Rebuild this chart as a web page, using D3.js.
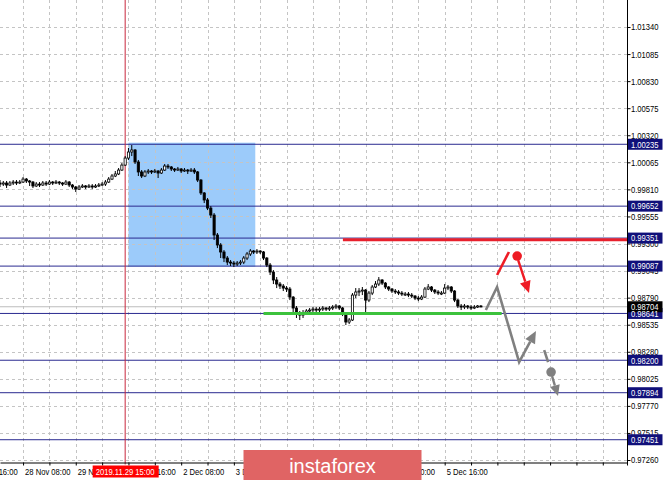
<!DOCTYPE html>
<html><head><meta charset="utf-8">
<script src="https://cdn.jsdelivr.net/npm/d3@7"></script>
<style>
body{margin:0;background:#fff}
svg{display:block}
.lbl{font-family:"Liberation Sans",Arial,sans-serif;font-size:9.3px}
</style>
</head><body>
<svg id="c" width="665" height="481"></svg>
<script>
// ---- data (hourly bars, index 0 = first visible bar) ----
const opens = [
0.99870,0.99860,0.99870,0.99851,0.99870,0.99879,0.99870,0.99879,0.99907,0.99889,
0.99879,0.99842,0.99860,0.99851,0.99870,0.99860,0.99879,0.99870,0.99879,0.99870,
0.99860,0.99879,0.99851,0.99832,0.99813,0.99832,0.99842,0.99832,0.99842,0.99832,
0.99842,0.99851,0.99860,0.99879,0.99907,0.99936,0.99955,0.99992,1.00039,1.00105,
1.00162,1.00181,1.00068,0.99974,0.99936,0.99974,0.99983,0.99974,0.99983,0.99964,
0.99992,1.00030,1.00021,1.00002,0.99992,1.00002,0.99983,0.99992,0.99983,0.99992,
0.99974,0.99898,0.99776,0.99710,0.99634,0.99568,0.99380,0.99286,0.99220,0.99163,
0.99125,0.99116,0.99106,0.99116,0.99125,0.99163,0.99201,0.99229,0.99220,0.99229,
0.99220,0.99163,0.99097,0.99031,0.98956,0.98918,0.98899,0.98880,0.98871,0.98795,
0.98692,0.98635,0.98626,0.98645,0.98664,0.98673,0.98682,0.98673,0.98682,0.98692,
0.98682,0.98692,0.98701,0.98711,0.98692,0.98635,0.98560,0.98579,0.98814,0.98843,
0.98852,0.98861,0.98767,0.98833,0.98890,0.98918,0.98956,0.98927,0.98890,0.98871,
0.98852,0.98843,0.98833,0.98824,0.98824,0.98814,0.98805,0.98786,0.98777,0.98795,
0.98871,0.98890,0.98861,0.98843,0.98833,0.98833,0.98880,0.98890,0.98852,0.98767,
0.98711,0.98701,0.98711,0.98701,0.98692,0.98701,0.98711];
const highs = [
0.99898,0.99889,0.99889,0.99889,0.99898,0.99898,0.99898,0.99926,0.99917,0.99898,
0.99889,0.99879,0.99879,0.99889,0.99889,0.99898,0.99889,0.99898,0.99889,0.99879,
0.99898,0.99889,0.99860,0.99842,0.99851,0.99860,0.99851,0.99860,0.99860,0.99860,
0.99870,0.99879,0.99898,0.99926,0.99955,0.99983,1.00011,1.00058,1.00124,1.00200,
1.00228,1.00190,1.00087,0.99992,0.99992,1.00002,0.99992,1.00002,0.99992,1.00011,
1.00049,1.00049,1.00030,1.00011,1.00021,1.00011,1.00011,1.00002,1.00011,1.00011,
0.99983,0.99907,0.99785,0.99728,0.99653,0.99587,0.99399,0.99304,0.99238,0.99182,
0.99144,0.99135,0.99135,0.99144,0.99182,0.99220,0.99248,0.99238,0.99248,0.99238,
0.99229,0.99172,0.99116,0.99050,0.98984,0.98937,0.98918,0.98899,0.98890,0.98805,
0.98711,0.98664,0.98673,0.98682,0.98692,0.98701,0.98701,0.98701,0.98711,0.98701,
0.98711,0.98720,0.98730,0.98720,0.98701,0.98645,0.98598,0.98833,0.98880,0.98880,
0.98890,0.98871,0.98852,0.98909,0.98946,0.98984,0.98965,0.98937,0.98899,0.98880,
0.98871,0.98861,0.98852,0.98843,0.98843,0.98833,0.98814,0.98805,0.98814,0.98890,
0.98918,0.98899,0.98871,0.98861,0.98852,0.98918,0.98909,0.98899,0.98861,0.98777,
0.98730,0.98730,0.98720,0.98720,0.98720,0.98720,0.98720];
const lows = [
0.99832,0.99842,0.99823,0.99842,0.99851,0.99851,0.99860,0.99870,0.99870,0.99842,
0.99823,0.99832,0.99832,0.99842,0.99842,0.99851,0.99851,0.99860,0.99851,0.99842,
0.99851,0.99832,0.99813,0.99785,0.99804,0.99823,0.99813,0.99823,0.99813,0.99823,
0.99832,0.99842,0.99842,0.99870,0.99898,0.99926,0.99945,0.99983,1.00030,1.00087,
1.00124,1.00049,0.99936,0.99917,0.99926,0.99955,0.99955,0.99964,0.99917,0.99955,
0.99983,1.00002,0.99983,0.99974,0.99983,0.99964,0.99974,0.99955,0.99974,0.99955,
0.99879,0.99757,0.99681,0.99615,0.99540,0.99333,0.99257,0.99163,0.99125,0.99097,
0.99088,0.99078,0.99088,0.99097,0.99106,0.99144,0.99182,0.99201,0.99201,0.99201,
0.99144,0.99078,0.99003,0.98918,0.98880,0.98871,0.98852,0.98843,0.98767,0.98654,
0.98598,0.98579,0.98598,0.98626,0.98645,0.98654,0.98654,0.98654,0.98664,0.98664,
0.98664,0.98673,0.98682,0.98673,0.98616,0.98532,0.98541,0.98570,0.98786,0.98805,
0.98814,0.98654,0.98748,0.98814,0.98880,0.98899,0.98909,0.98871,0.98852,0.98833,
0.98824,0.98814,0.98805,0.98805,0.98795,0.98786,0.98767,0.98757,0.98767,0.98786,
0.98861,0.98843,0.98824,0.98814,0.98814,0.98824,0.98861,0.98833,0.98748,0.98692,
0.98673,0.98682,0.98682,0.98673,0.98682,0.98692,0.98701];
const closes = [
0.99860,0.99870,0.99851,0.99870,0.99879,0.99870,0.99879,0.99907,0.99889,0.99879,
0.99842,0.99860,0.99851,0.99870,0.99860,0.99879,0.99870,0.99879,0.99870,0.99860,
0.99879,0.99851,0.99832,0.99813,0.99832,0.99842,0.99832,0.99842,0.99832,0.99842,
0.99851,0.99860,0.99879,0.99907,0.99936,0.99955,0.99992,1.00039,1.00105,1.00162,
1.00181,1.00068,0.99974,0.99936,0.99974,0.99983,0.99974,0.99983,0.99964,0.99992,
1.00030,1.00021,1.00002,0.99992,1.00002,0.99983,0.99992,0.99983,0.99992,0.99974,
0.99898,0.99776,0.99710,0.99634,0.99568,0.99380,0.99286,0.99220,0.99163,0.99125,
0.99116,0.99106,0.99116,0.99125,0.99163,0.99201,0.99229,0.99220,0.99229,0.99220,
0.99163,0.99097,0.99031,0.98956,0.98918,0.98899,0.98880,0.98871,0.98795,0.98692,
0.98635,0.98626,0.98645,0.98664,0.98673,0.98682,0.98673,0.98682,0.98692,0.98682,
0.98692,0.98701,0.98711,0.98692,0.98635,0.98560,0.98579,0.98814,0.98843,0.98852,
0.98861,0.98767,0.98833,0.98890,0.98918,0.98956,0.98927,0.98890,0.98871,0.98852,
0.98843,0.98833,0.98824,0.98824,0.98814,0.98805,0.98786,0.98777,0.98795,0.98871,
0.98890,0.98861,0.98843,0.98833,0.98833,0.98880,0.98890,0.98852,0.98767,0.98711,
0.98701,0.98711,0.98701,0.98692,0.98701,0.98711,0.98704];

const priceTicks = [1.01340,1.01085,1.00830,1.00575,1.00320,1.00065,0.99810,0.99555,0.99300,
  0.99045,0.98790,0.98535,0.98280,0.98025,0.97770,0.97515,0.97260];
const levels = [1.00235,0.99652,0.99351,0.99087,0.98641,0.98200,0.97894,0.97451];
const lastPrice = 0.98704;
const timeTickIdx = [-9,7,23,39,55,71,87,103,119,135];
const timeTickLabels = ["27 Nov 16:00","28 Nov 08:00","29 Nov 00:00","29 Nov 16:00","2 Dec 08:00",
  "3 Dec 00:00","3 Dec 16:00","4 Dec 08:00","5 Dec 00:00","5 Dec 16:00"];
const markerIdx = 38, markerLabel = "2019.11.29 15:00";
const zoneBox = {i0:39, i1:77.5, p0:1.00250, p1:0.99081};
const redLevel = {i0:104.1, p:0.99336};
const greenLevel = {i0:80, i1:152.3, p:0.98641};
const redSlash = [[150.9,0.99003],[154.5,0.99220]];
const redDot = [157.0,0.99182];
const redArrow = [[157.3,0.99144],[160.6,0.98833]];
const grayPath = [[147.5,0.98673],[150.9,0.98890],[157.6,0.98183],[162.7,0.98475]];
const graySlash = [[165.2,0.98296],[166.4,0.98183]];
const grayDot = [167.3,0.98089];
const grayArrow = [[167.6,0.98051],[169.4,0.97862]];

// ---- drawing ----
const svg = d3.select("#c");
const plotR = 627.5, plotB = 462.5;
const x = d3.scaleLinear().domain([0,190.5]).range([0,627.5]);
const y = d3.scaleLinear().domain([0.97260,1.01340]).range([460,27]);
const gridIdx = d3.range(-1,190,8);

svg.append("rect").attr("width",665).attr("height",481).attr("fill","#fff");

// zone rectangle
svg.append("rect").attr("x",x(zoneBox.i0)).attr("y",y(zoneBox.p0))
  .attr("width",x(zoneBox.i1)-x(zoneBox.i0)).attr("height",y(zoneBox.p1)-y(zoneBox.p0))
  .attr("fill","#9ccbfa");

// grid
const grid = svg.append("g").attr("stroke","#c4c4c4").attr("stroke-dasharray","3,3").attr("stroke-width",1);
grid.selectAll("line.v").data(gridIdx).join("line")
  .attr("x1",d=>Math.round(x(d))+0.5).attr("x2",d=>Math.round(x(d))+0.5).attr("y1",0).attr("y2",plotB);
grid.selectAll("line.h").data(priceTicks).join("line").attr("class","h")
  .attr("x1",0).attr("x2",plotR).attr("y1",d=>Math.round(y(d))+0.5).attr("y2",d=>Math.round(y(d))+0.5);

// current price line
svg.append("line").attr("x1",0).attr("x2",plotR).attr("y1",y(lastPrice)).attr("y2",y(lastPrice))
  .attr("stroke","#bdbdbd").attr("stroke-width",1);

// level lines
svg.append("g").selectAll("line").data(levels).join("line")
  .attr("x1",0).attr("x2",plotR).attr("y1",d=>y(d)).attr("y2",d=>y(d))
  .attr("stroke","#2a2a90").attr("stroke-width",1);

// marker vertical line
svg.append("line").attr("x1",x(markerIdx)).attr("x2",x(markerIdx)).attr("y1",0).attr("y2",plotB+2)
  .attr("stroke","#c8283e").attr("stroke-width",1);

// candles
const bars = d3.range(closes.length);
const cg = svg.append("g");
cg.selectAll("line").data(bars).join("line")
  .attr("x1",i=>x(i)).attr("x2",i=>x(i)).attr("y1",i=>y(highs[i])).attr("y2",i=>y(lows[i]))
  .attr("stroke","#000").attr("stroke-width",1);
cg.selectAll("rect").data(bars).join("rect")
  .attr("x",i=>x(i)-1.1).attr("width",2.2)
  .attr("y",i=>y(Math.max(opens[i],closes[i])))
  .attr("height",i=>Math.max(1,Math.abs(y(opens[i])-y(closes[i]))))
  .attr("fill",i=>closes[i]>=opens[i]?"#fff":"#000")
  .attr("stroke","#000").attr("stroke-width",0.8);

// red & green thick levels
svg.append("line").attr("x1",x(redLevel.i0)).attr("x2",plotR).attr("y1",y(redLevel.p)).attr("y2",y(redLevel.p))
  .attr("stroke","#e8202c").attr("stroke-width",3);
svg.append("line").attr("x1",x(greenLevel.i0)).attr("x2",x(greenLevel.i1)).attr("y1",y(greenLevel.p)).attr("y2",y(greenLevel.p))
  .attr("stroke","#3cc23c").attr("stroke-width",3);

// annotations
const line = d3.line().x(d=>x(d[0])).y(d=>y(d[1]));
function arrowTo(pts,color,w,hl,hw){
  const n = pts.length;
  const p1 = [x(pts[n-2][0]),y(pts[n-2][1])], p2=[x(pts[n-1][0]),y(pts[n-1][1])];
  const dx=p2[0]-p1[0], dy=p2[1]-p1[1], L=Math.hypot(dx,dy), ux=dx/L, uy=dy/L;
  const bx=p2[0]-ux*hl, by=p2[1]-uy*hl;
  const pp = pts.map(d=>[x(d[0]),y(d[1])]); pp[n-1]=[bx,by];
  svg.append("path").attr("d",d3.line()(pp)).attr("fill","none").attr("stroke",color)
    .attr("stroke-width",w).attr("stroke-linejoin","miter");
  svg.append("path").attr("d",`M${p2[0]},${p2[1]}L${bx-uy*hw},${by+ux*hw}L${bx+uy*hw},${by-ux*hw}Z`).attr("fill",color);
}
svg.append("path").attr("d",line(redSlash)).attr("stroke","#ee1c25").attr("stroke-width",2.6).attr("fill","none");
svg.append("circle").attr("cx",x(redDot[0])).attr("cy",y(redDot[1])).attr("r",4.8).attr("fill","#ee1c25");
arrowTo(redArrow,"#ee1c25",2.4,12,5.5);
arrowTo(grayPath,"#808080",2.6,12,5.5);
svg.append("path").attr("d",line(graySlash)).attr("stroke","#808080").attr("stroke-width",2.6).attr("fill","none");
svg.append("circle").attr("cx",x(grayDot[0])).attr("cy",y(grayDot[1])).attr("r",4.8).attr("fill","#808080");
arrowTo(grayArrow,"#808080",2.4,11,5);

// axes
const labelMap = new Map(timeTickIdx.map((d,i)=>[d,timeTickLabels[i]]));
const xAxis = svg.append("g").attr("class","lbl").attr("transform",`translate(0,${plotB})`)
  .call(d3.axisBottom(x).tickValues(gridIdx).tickSize(3).tickSizeOuter(0).tickFormat(d=>labelMap.get(d)||""));
xAxis.selectAll("text").remove();
xAxis.attr("font-family",null).attr("font-size",null);
xAxis.select(".domain").attr("stroke","#000");
const lab = svg.append("g").attr("class","lbl");
lab.selectAll("text").data(timeTickIdx).join("text")
  .attr("x",d=>x(d)+2).attr("y",plotB+12).text(d=>labelMap.get(d)).attr("fill","#000");

const yAxis = svg.append("g").attr("class","lbl").attr("transform",`translate(${plotR},0)`)
  .call(d3.axisRight(y).tickValues(priceTicks).tickSize(3).tickSizeOuter(0).tickFormat(d3.format(".5f")));
yAxis.attr("font-family",null).attr("font-size",null);
yAxis.select(".domain").remove();
yAxis.selectAll("text").attr("x",3.5).attr("fill","#000");
svg.append("line").attr("x1",plotR).attr("x2",plotR).attr("y1",0).attr("y2",plotB+3).attr("stroke","#000");

// level labels
const boxes = svg.append("g").attr("class","lbl");
const allLabels = levels.map(p=>({p,bg:"#10107a"})).concat([{p:lastPrice,bg:"#000"}]);
boxes.selectAll("rect").data(allLabels).join("rect")
  .attr("x",plotR+0.5).attr("y",d=>y(d.p)-5.5).attr("width",34.5).attr("height",11).attr("fill",d=>d.bg);
boxes.selectAll("text").data(allLabels).join("text")
  .attr("x",plotR+3.5).attr("y",d=>y(d.p)+3.3).attr("fill","#fff").text(d=>d3.format(".5f")(d.p));

// marker time label
const mx = x(markerIdx);
svg.append("rect").attr("x",mx-32.5).attr("y",plotB+3).attr("width",66).attr("height",12).attr("fill","#ff0000");
svg.append("text").attr("class","lbl").attr("x",mx-29.5).attr("y",plotB+12).attr("fill","#fff").text(markerLabel);

// narrow the small axis font (MT4-like condensed look)
svg.selectAll(".lbl text, text.lbl").each(function(){
  const L = this.getComputedTextLength();
  if (L > 0) d3.select(this).attr("textLength", L*0.82).attr("lengthAdjust","spacingAndGlyphs");
});

// watermark banner
svg.append("rect").attr("x",243.5).attr("y",450).attr("width",178).attr("height",30).attr("fill","#e06464");
svg.append("text").attr("x",332.5).attr("y",473).attr("text-anchor","middle")
  .attr("font-family","Liberation Sans, Arial, sans-serif").attr("font-size",20).attr("fill","#fff").text("instaforex");
</script>
</body></html>
